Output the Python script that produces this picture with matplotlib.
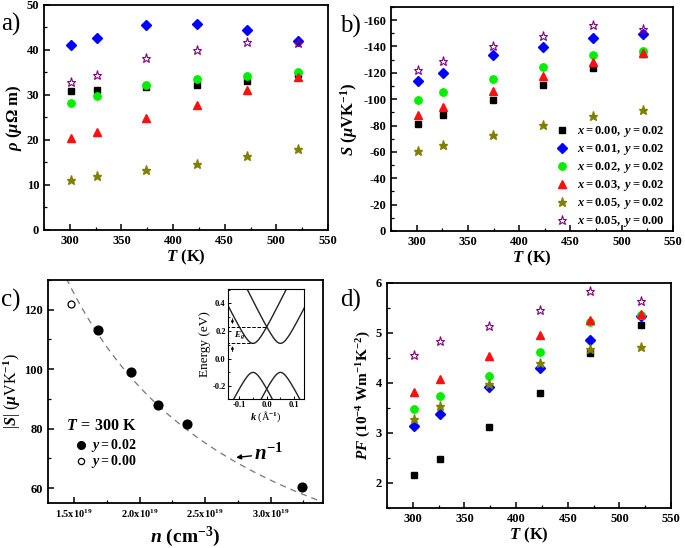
import numpy as np
import matplotlib
matplotlib.use("Agg")
import matplotlib.pyplot as plt
from matplotlib.ticker import MultipleLocator, FuncFormatter

plt.rcParams["font.family"] = ["Liberation Serif", "DejaVu Serif"]
plt.rcParams["font.weight"] = "bold"
plt.rcParams["axes.unicode_minus"] = False
plt.rcParams["mathtext.fontset"] = "custom"
plt.rcParams["mathtext.rm"] = "Liberation Serif:bold"
plt.rcParams["mathtext.bf"] = "Liberation Serif:bold"
plt.rcParams["mathtext.it"] = "Liberation Serif:italic:bold"

# temperatures (K)
T = [301, 326, 374, 423, 472, 521]

LABELS = [r"$x = 0.00,\ y = 0.02$", r"$x = 0.01,\ y = 0.02$",
          r"$x = 0.02,\ y = 0.02$", r"$x = 0.03,\ y = 0.02$",
          r"$x = 0.05,\ y = 0.02$", r"$x = 0.05,\ y = 0.00$"]

# resistivity (uOhm m)
rho = [
    [30.8, 31.2, 31.7, 32.2, 33.2, 34.6],
    [41.1, 42.7, 45.5, 45.7, 44.5, 41.9],
    [28.2, 29.8, 32.3, 33.6, 34.3, 35.1],
    [20.4, 21.8, 24.8, 27.8, 31.2, 34.0],
    [11.2, 12.0, 13.4, 14.7, 16.4, 17.9],
    [32.8, 34.5, 38.2, 40.1, 41.7, 41.5],
]

# Seebeck (uV/K)
seebeck = [
    [-81.5, -88.0, -99.2, -110.5, -123.5, -134.0],
    [-113.5, -120.0, -133.3, -139.8, -146.8, -149.2],
    [-99.2, -105.4, -115.7, -124.5, -133.8, -136.3],
    [-88.0, -94.0, -106.0, -117.5, -128.0, -135.0],
    [-60.5, -65.2, -73.0, -80.4, -87.3, -91.8],
    [-122.0, -129.3, -140.0, -148.0, -156.0, -153.0],
]

# power factor (1e-4 W m^-1 K^-2)
pf = [
    [2.16, 2.48, 3.11, 3.80, 4.59, 5.15],
    [3.13, 3.37, 3.91, 4.29, 4.86, 5.33],
    [3.48, 3.73, 4.13, 4.61, 5.22, 5.35],
    [3.81, 4.07, 4.53, 4.95, 5.26, 5.38],
    [3.27, 3.53, 3.98, 4.40, 4.68, 4.71],
    [4.55, 4.83, 5.13, 5.45, 5.83, 5.64],
]

# |S| vs carrier concentration at 300 K
n_y002 = [1.678e19, 1.937e19, 2.137e19, 2.36e19, 3.238e19]
s_y002 = [113.3, 99.2, 87.8, 81.5, 60.5]
n_y000 = [1.473e19]
s_y000 = [122.0]
fit_coef = 1.88e21   # |S| = A / n

# inset band parameters (eV, 1/A)
k_valley = 0.05
cb_min, cb_slope = 0.11, 4.04
vb_max, vb_slope = -0.10, 3.92
e_cross = 0.23

STYLES = [
    dict(marker="s", color="black", ms=4.8),
    dict(marker="D", color="#0000ff", ms=4.8),
    dict(marker="o", color="#00ee00", ms=5.3),
    dict(marker="^", color="#ff1010", ms=5.8),
    dict(marker="*", color="#808000", ms=6.5),
    dict(marker="*", color="#800080", ms=6.8, mfc="none", mew=0.8),
]

fig = plt.figure(figsize=(6.85, 5.48), dpi=100)

ax_a = fig.add_axes([0.0642, 0.5803, 0.4146, 0.4106])
ax_b = fig.add_axes([0.5708, 0.5785, 0.4117, 0.4088])
ax_c = fig.add_axes([0.0701, 0.0821, 0.4015, 0.4069])
ax_d = fig.add_axes([0.5650, 0.0730, 0.4146, 0.4106])


def style_axes(ax, lab_size=9):
    for sp in ax.spines.values():
        sp.set_linewidth(1.3)
    ax.tick_params(which="both", direction="in", labelsize=lab_size,
                   top=False, right=False)
    ax.tick_params(which="major", length=4, width=1.1)
    ax.tick_params(which="minor", length=2.5, width=0.9)


def draw_series(ax, values):
    for vals, st, lab in zip(values, STYLES, LABELS):
        st = dict(st)
        ms = st.pop("ms")
        ax.plot(T, vals, linestyle="none", markersize=ms, label=lab,
                markeredgecolor=st["color"], **st)


# ---- a) resistivity ----
draw_series(ax_a, rho)
ax_a.set_xlim(275, 550)
ax_a.set_ylim(0, 50)
ax_a.xaxis.set_major_locator(MultipleLocator(50))
ax_a.xaxis.set_minor_locator(MultipleLocator(25))
ax_a.yaxis.set_major_locator(MultipleLocator(10))
ax_a.yaxis.set_minor_locator(MultipleLocator(5))
style_axes(ax_a)
ax_a.set_xlabel(r"$T\ (\mathrm{K})$", fontsize=12, labelpad=1)
ax_a.set_ylabel(r"$\rho\ (\mu\Omega\ \mathrm{m})$", fontsize=12, labelpad=2)

# ---- b) Seebeck ----
draw_series(ax_b, seebeck)
ax_b.set_xlim(275, 550)
ax_b.set_ylim(0, -170)
ax_b.xaxis.set_major_locator(MultipleLocator(50))
ax_b.xaxis.set_minor_locator(MultipleLocator(25))
ax_b.yaxis.set_major_locator(MultipleLocator(20))
ax_b.yaxis.set_minor_locator(MultipleLocator(10))
style_axes(ax_b)
ax_b.set_xlabel(r"$T\ (\mathrm{K})$", fontsize=12, labelpad=1)
ax_b.set_ylabel(r"$S\ (\mu\mathrm{VK}^{-1})$", fontsize=12, labelpad=2)
ax_b.legend(loc="lower right", bbox_to_anchor=(1.0, -0.03), frameon=False,
            fontsize=9, handletextpad=0.7, labelspacing=0.24,
            borderaxespad=0.3, handlelength=1.0)

# ---- c) |S| vs n ----
nn = np.linspace(1.44e19, 3.4e19, 200)
ax_c.plot(nn, fit_coef / nn, linestyle=(0, (5, 4)), color="#777777", lw=0.9)
ax_c.plot(n_y002, s_y002, "o", color="black", ms=6.3)
ax_c.plot(n_y000, s_y000, "o", mfc="white", mec="black", ms=5, mew=0.9)
ax_c.set_xlim(1.3e19, 3.4e19)
ax_c.set_ylim(55, 130)
ax_c.xaxis.set_major_locator(MultipleLocator(0.5e19))
ax_c.xaxis.set_minor_locator(MultipleLocator(0.25e19))
ax_c.yaxis.set_major_locator(MultipleLocator(20))
ax_c.yaxis.set_minor_locator(MultipleLocator(10))
ax_c.xaxis.set_major_formatter(
    FuncFormatter(lambda v, p: r"$\mathrm{%.1fx10}^{19}$" % (v / 1e19)))
style_axes(ax_c)
ax_c.tick_params(axis="x", labelsize=7.5)
ax_c.set_xlabel(r"$n\ (\mathrm{cm}^{-3})$", fontsize=14, labelpad=3)
ax_c.set_ylabel(r"|$S$| ($\mu$VK$^{-1}$)", fontsize=11.5, labelpad=1,
                fontweight="normal")
ax_c.annotate(r"$n^{-1}$", xy=(2.736e19, 70.3), xytext=(2.875e19, 71.5),
              fontsize=15, va="center",
              arrowprops=dict(arrowstyle="-|>", color="black", lw=1.0,
                              mutation_scale=7, shrinkA=0, shrinkB=0))
ax_c.text(1.44e19, 79.5, r"$T\,=\,300\ \mathrm{K}$", fontsize=11.5)
ax_c.plot([1.55e19], [74.5], "o", color="black", ms=5.5)
ax_c.plot([1.55e19], [69.0], "o", mfc="white", mec="black", ms=4.5, mew=0.9)
ax_c.text(1.63e19, 74.5, r"$y = 0.02$", fontsize=10, va="center")
ax_c.text(1.63e19, 69.0, r"$y = 0.00$", fontsize=10, va="center")

# inset band structure
ins = fig.add_axes([0.3325, 0.2726, 0.1118, 0.2003])
kk = np.linspace(-0.16, 0.16, 400)
for k0 in (-k_valley, k_valley):
    ins.plot(kk, np.sqrt(cb_min**2 + (cb_slope * (kk - k0))**2), color="#222222", lw=1.0)
    ins.plot(kk, -np.sqrt(vb_max**2 + (vb_slope * (kk - k0))**2), color="#222222", lw=1.0)
ins.plot([-0.15, 0.0], [e_cross, e_cross], "--", color="black", lw=0.7)
ins.plot([-0.15, -k_valley], [cb_min, cb_min], "--", color="black", lw=0.7)
ins.annotate("", xy=(-0.125, e_cross), xytext=(-0.125, 0.31),
             arrowprops=dict(arrowstyle="-|>", lw=0.6, mutation_scale=4, color="black"))
ins.annotate("", xy=(-0.125, cb_min), xytext=(-0.125, 0.03),
             arrowprops=dict(arrowstyle="-|>", lw=0.6, mutation_scale=4, color="black"))
ins.text(-0.118, 0.17, "$E_g$", fontsize=6.5, va="center", fontweight="normal")
ins.set_xlim(-0.142, 0.137)
ins.set_ylim(-0.29, 0.505)
ins.xaxis.set_major_locator(MultipleLocator(0.1))
ins.xaxis.set_minor_locator(MultipleLocator(0.05))
ins.yaxis.set_major_locator(MultipleLocator(0.2))
ins.yaxis.set_minor_locator(MultipleLocator(0.1))
ins.xaxis.set_major_formatter(FuncFormatter(lambda v, p: "%.1f" % v))
ins.yaxis.set_major_formatter(FuncFormatter(lambda v, p: "%.1f" % v))
for sp in ins.spines.values():
    sp.set_linewidth(0.8)
ins.tick_params(which="both", direction="in", labelsize=6, pad=1.5)
ins.tick_params(which="major", length=2.5, width=0.7)
ins.tick_params(which="minor", length=1.5, width=0.6)
ins.set_ylabel("Energy (eV)", fontsize=9.5, fontweight="normal", labelpad=1)
ins.set_xlabel("$k$ (Å$^{-1}$)", fontsize=7.5, fontweight="normal", labelpad=0.5)

# ---- d) power factor ----
draw_series(ax_d, pf)
ax_d.set_xlim(275, 550)
ax_d.set_ylim(1.5, 6)
ax_d.xaxis.set_major_locator(MultipleLocator(50))
ax_d.xaxis.set_minor_locator(MultipleLocator(25))
ax_d.yaxis.set_major_locator(MultipleLocator(1))
ax_d.yaxis.set_minor_locator(MultipleLocator(0.5))
style_axes(ax_d)
ax_d.set_xlabel(r"$T\ (\mathrm{K})$", fontsize=12, labelpad=1)
ax_d.set_ylabel(r"$PF\ (10^{-4}\ \mathrm{Wm}^{-1}\mathrm{K}^{-2})$",
                fontsize=11, labelpad=2)

# panel letters
for x, y, s in [(0.002, 0.955, "a)"), (0.497, 0.952, "b)"),
                (0.002, 0.452, "c)"), (0.497, 0.452, "d)")]:
    fig.text(x, y, s, fontsize=18, fontweight="normal", va="center")

fig.savefig("out.png", dpi=100)
